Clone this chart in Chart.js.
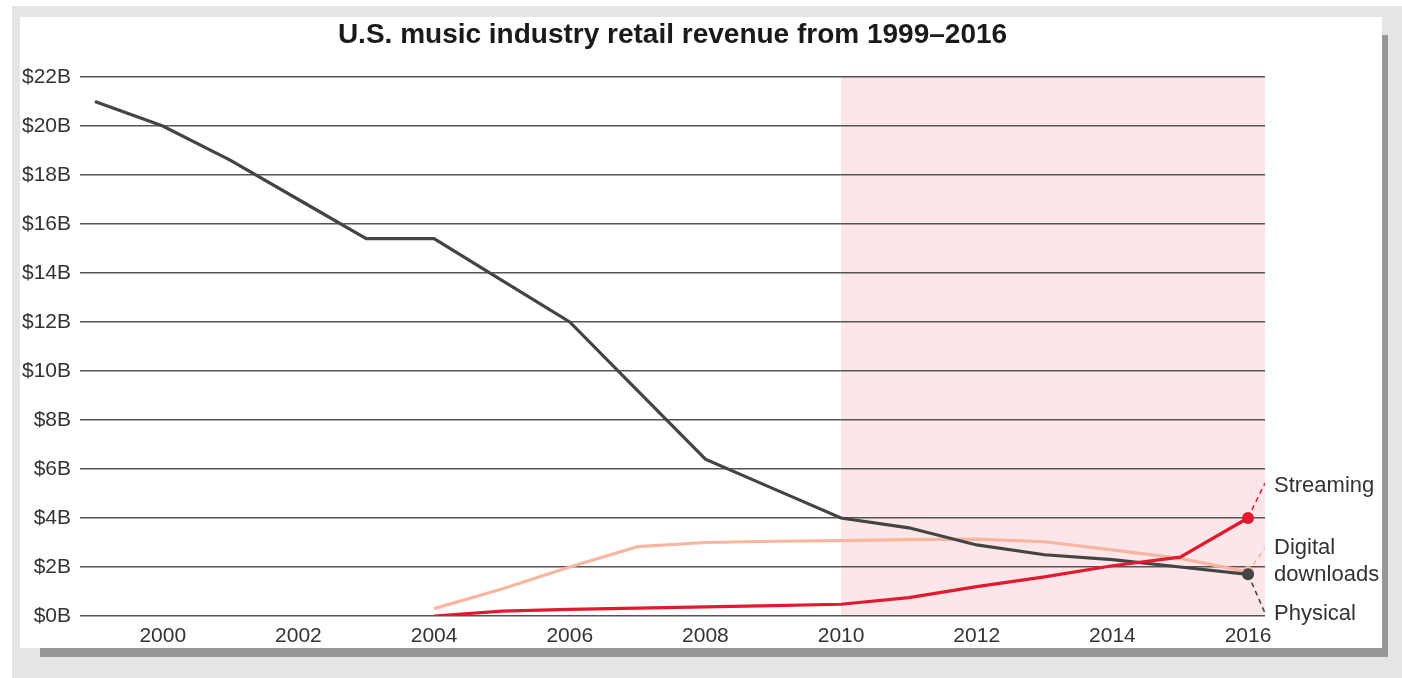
<!DOCTYPE html>
<html>
<head>
<meta charset="utf-8">
<title>U.S. music industry retail revenue</title>
<script src="https://cdn.jsdelivr.net/npm/chart.js@4.4.1/dist/chart.umd.min.js"></script>
<style>
  html, body { margin: 0; padding: 0; background: #fff; }
  body { width: 1402px; height: 678px; position: relative; overflow: hidden; }
  .panel { position: absolute; left: 12px; top: 6px; width: 1390px; height: 672px; background: #e5e5e5; }
  .shadow { position: absolute; left: 40px; top: 35px; width: 1348px; height: 622px; background: #979797; }
  .card { position: absolute; left: 20px; top: 17px; width: 1362px; height: 631px; background: #fff; }
  canvas { display: block; }
</style>
</head>
<body>
<div class="panel"></div>
<div class="shadow"></div>
<div class="card"><canvas id="revenueChart" width="1362" height="631"></canvas></div>
<script>
(function () {
  // Revenue in billions of dollars, one value per year
  var years = [1999, 2000, 2001, 2002, 2003, 2004, 2005, 2006, 2007, 2008, 2009, 2010, 2011, 2012, 2013, 2014, 2015, 2016];
  var physical = [21.0, 20.0, 18.6, 17.0, 15.4, 15.4, 13.7, 12.0, 9.2, 6.4, 5.2, 4.0, 3.6, 2.9, 2.5, 2.3, 2.0, 1.7];
  var digital = [null, null, null, null, null, 0.3, 1.1, 2.0, 2.83, 3.0, 3.05, 3.08, 3.12, 3.14, 3.03, 2.7, 2.35, 1.8];
  var streaming = [null, null, null, null, null, 0.0, 0.2, 0.27, 0.32, 0.37, 0.42, 0.48, 0.75, 1.2, 1.6, 2.05, 2.4, 4.0];

  var xTicks = [2000, 2002, 2004, 2006, 2008, 2010, 2012, 2014, 2016];
  var yTicks = [0, 2, 4, 6, 8, 10, 12, 14, 16, 18, 20, 22];
  var shadeFrom = 2010;

  // Series names at the right end, with where each name sits (in $B)
  var seriesNames = [['Streaming'], ['Digital', 'downloads'], ['Physical']];
  var nameLevels = [5.3, 2.78, 0.08];
  var leaderEnds = [5.43, 2.78, 0.12];

  var FONT = "'Liberation Sans', Arial, Helvetica, sans-serif";
  var cPhysical = '#444444';
  var cDigital = '#f8b5a0';
  var cStreaming = '#e11a2f';
  var cText = '#333333';

  var xMin = 1998.78, xMax = 2016.25;
  var last = years.length - 1;

  function series(vals) {
    return years.map(function (yr, i) { return { x: yr, y: vals[i] }; });
  }
  function leader(vals, endY) {
    return [{ x: years[last], y: vals[last] }, { x: xMax, y: endY }];
  }
  function endDot(ctx) { return ctx.dataIndex === last ? 6 : 0; }

  var shadePlugin = {
    id: 'shade',
    beforeDraw: function (chart) {
      var x = chart.scales.x, y = chart.scales.y, ctx = chart.ctx;
      var left = x.getPixelForValue(shadeFrom);
      var top = y.getPixelForValue(yTicks[yTicks.length - 1]);
      var bottom = y.getPixelForValue(0);
      ctx.save();
      ctx.fillStyle = '#fce6e9';
      ctx.fillRect(left, top, chart.chartArea.right - left, bottom - top);
      ctx.restore();
    }
  };

  var namesPlugin = {
    id: 'seriesNames',
    afterDraw: function (chart) {
      var y = chart.scales.y, ctx = chart.ctx;
      ctx.save();
      ctx.font = '22px ' + FONT;
      ctx.fillStyle = cText;
      ctx.textAlign = 'left';
      ctx.textBaseline = 'middle';
      seriesNames.forEach(function (lines, i) {
        var py = y.getPixelForValue(nameLevels[i]);
        lines.forEach(function (t, j) {
          ctx.fillText(t, chart.chartArea.right + 9, py + j * 27);
        });
      });
      ctx.restore();
    }
  };

  new Chart(document.getElementById('revenueChart'), {
    type: 'line',
    data: {
      datasets: [
        { label: 'Streaming', data: series(streaming), borderColor: cStreaming, backgroundColor: cStreaming,
          borderWidth: 3.2, pointRadius: endDot, pointBorderWidth: 0, tension: 0 },
        { label: 'Physical', data: series(physical), borderColor: cPhysical, backgroundColor: cPhysical,
          borderWidth: 3.2, pointRadius: endDot, pointBorderWidth: 0, tension: 0 },
        { label: 'Digital downloads', data: series(digital), borderColor: cDigital, backgroundColor: cDigital,
          borderWidth: 3.2, pointRadius: endDot, pointBorderWidth: 0, tension: 0 },
        { data: leader(streaming, leaderEnds[0]), borderColor: cStreaming, borderWidth: 1.5, borderDash: [5, 4], pointRadius: 0 },
        { data: leader(digital, leaderEnds[1]), borderColor: cDigital, borderWidth: 1.5, borderDash: [5, 4], pointRadius: 0 },
        { data: leader(physical, leaderEnds[2]), borderColor: cPhysical, borderWidth: 1.5, borderDash: [5, 4], pointRadius: 0 }
      ]
    },
    options: {
      responsive: false,
      animation: false,
      layout: { padding: { left: 0, right: 117, top: 0, bottom: 0 } },
      plugins: {
        legend: { display: false },
        tooltip: { enabled: false },
        title: {
          display: true,
          fullSize: false,
          text: 'U.S. music industry retail revenue from 1999–2016',
          color: '#1a1a1a',
          font: { family: FONT, size: 28, weight: 'bold', lineHeight: 1 },
          padding: { top: 4, bottom: 28 }
        }
      },
      scales: {
        x: {
          type: 'linear',
          min: xMin,
          max: xMax,
          grid: { display: false, drawTicks: false },
          border: { display: false },
          afterBuildTicks: function (scale) { scale.ticks = xTicks.map(function (v) { return { value: v }; }); },
          afterFit: function (scale) { scale.height = 32; },
          ticks: {
            autoSkip: false, maxRotation: 0, padding: 8, color: cText,
            font: { family: FONT, size: 21 },
            callback: function (v) { return String(v); }
          }
        },
        y: {
          min: 0,
          max: 22,
          grid: { color: '#555555', lineWidth: 1.4, drawTicks: false },
          border: { display: false },
          afterBuildTicks: function (scale) { scale.ticks = yTicks.map(function (v) { return { value: v }; }); },
          afterFit: function (scale) { scale.width = 60; },
          ticks: {
            padding: 9, color: cText,
            font: { family: FONT, size: 21 },
            callback: function (v) { return '$' + v + 'B'; }
          }
        }
      }
    },
    plugins: [shadePlugin, namesPlugin]
  });
})();
</script>
</body>
</html>
